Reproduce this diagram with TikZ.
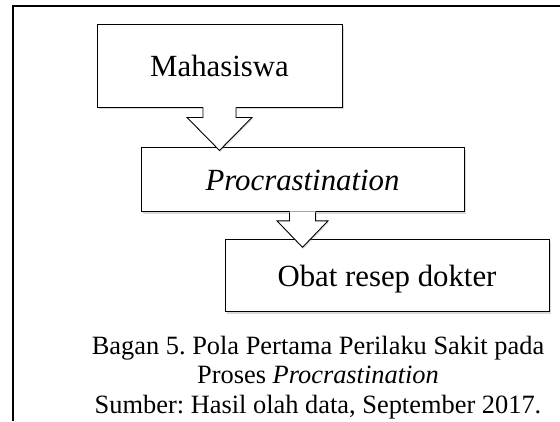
\documentclass[tikz,border=0pt]{standalone}
\usepackage{fontspec}
\setmainfont{Liberation Serif}
\usetikzlibrary{positioning,shadows}
\frenchspacing

% down block arrow: node, shaft half width, neck, head half width, length
\newcommand{\blockdown}[5]{%
  \fill[white,drop shadow={shadow xshift=1pt,shadow yshift=-1.5pt,opacity=.25}]
    ([xshift=-#2pt,yshift=1pt]#1.south) -- ([xshift=-#2pt,yshift=-#3pt]#1.south)
    -- ([xshift=-#4pt,yshift=-#3pt]#1.south) -- ([yshift=-#5pt]#1.south)
    -- ([xshift=#4pt,yshift=-#3pt]#1.south) -- ([xshift=#2pt,yshift=-#3pt]#1.south)
    -- ([xshift=#2pt,yshift=1pt]#1.south) -- cycle;
  \draw[line width=0.9pt,line join=miter]
    ([xshift=-#2pt]#1.south) -- ([xshift=-#2pt,yshift=-#3pt]#1.south)
    -- ([xshift=-#4pt,yshift=-#3pt]#1.south) -- ([yshift=-#5pt]#1.south)
    -- ([xshift=#4pt,yshift=-#3pt]#1.south) -- ([xshift=#2pt,yshift=-#3pt]#1.south)
    -- ([xshift=#2pt]#1.south);}

\begin{document}
\begin{tikzpicture}[x=1pt,y=1pt,node distance=40pt]
  \tikzstyle{box}=[draw=black,fill=white,line width=0.9pt,inner sep=0pt,
    text height=21pt,text depth=0pt,font=\fontsize{30.8}{36}\selectfont,
    drop shadow={shadow xshift=1.5pt,shadow yshift=-2pt,opacity=.3}]

  \useasboundingbox (0,0) rectangle (560,-421);
  \draw[line width=1.6pt] (13,-421) -- (13,-6) -- (560,-6);

  \node[box,minimum width=245pt,minimum height=83pt] (mhs) at (219.5,-65.5) {Mahasiswa};
  \node[box,minimum width=323pt,minimum height=64pt] (proc) [below=40pt of mhs,xshift=83pt] {\textit{Procrastination}};
  \node[box,minimum width=324pt,minimum height=72pt] (obat) [below=27pt of proc,xshift=84.5pt] {Obat resep dokter};

  \blockdown{mhs}{16.5}{10}{32.5}{43}
  \blockdown{proc}{13}{8.5}{25.5}{35}

  \node[font=\fontsize{26.4}{29.5}\selectfont,align=center,anchor=base] (caption) at (318,-413)
    {Bagan 5. Pola Pertama Perilaku Sakit pada\\Proses \textit{Procrastination}\\Sumber: Hasil olah data, September 2017.};
\end{tikzpicture}
\end{document}
